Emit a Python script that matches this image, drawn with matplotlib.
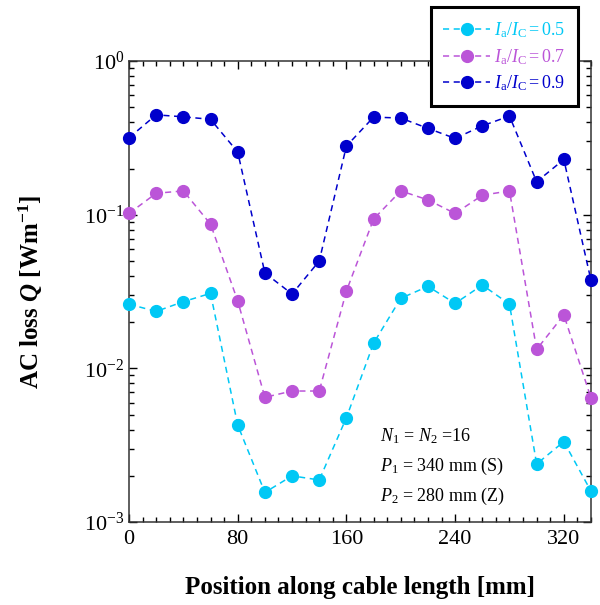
import matplotlib.pyplot as plt

plt.rcParams['font.family'] = ['Liberation Serif', 'DejaVu Serif']
plt.rcParams['mathtext.fontset'] = 'custom'
plt.rcParams['mathtext.rm'] = 'Liberation Serif'
plt.rcParams['mathtext.it'] = 'Liberation Serif:italic'
plt.rcParams['mathtext.bf'] = 'Liberation Serif:bold'
plt.rcParams['mathtext.bfit'] = 'Liberation Serif:italic:bold'
plt.rcParams['axes.unicode_minus'] = False

# chart data
position = [0, 20, 40, 60, 80, 100, 120, 140, 160, 180, 200, 220, 240, 260, 280, 300, 320, 340]
loss_05 = [0.0262, 0.0235, 0.0272, 0.0308, 0.00428, 0.00156, 0.00200, 0.00188, 0.00478,
           0.0146, 0.0286, 0.0342, 0.0265, 0.0349, 0.0262, 0.00239, 0.00334, 0.00159]
loss_07 = [0.102, 0.138, 0.143, 0.0869, 0.0275, 0.00649, 0.00713, 0.00713, 0.0319,
           0.0938, 0.143, 0.125, 0.102, 0.134, 0.143, 0.0133, 0.0223, 0.00642]
loss_09 = [0.317, 0.447, 0.434, 0.418, 0.256, 0.0418, 0.0305, 0.050, 0.280,
           0.432, 0.426, 0.365, 0.314, 0.379, 0.439, 0.164, 0.229, 0.0374]
labels = [r'$I_\mathrm{a}/I_\mathrm{C} = 0.5$',
          r'$I_\mathrm{a}/I_\mathrm{C} = 0.7$',
          r'$I_\mathrm{a}/I_\mathrm{C} = 0.9$']
colors = ['#00C8F5', '#BB55D8', '#0000CC']

fig = plt.figure(figsize=(6.0, 6.05), dpi=100)
ax = fig.add_axes([0.215, 0.137, 0.77, 0.762])

for y, lab, c in zip([loss_05, loss_07, loss_09], labels, colors):
    ax.plot(position, y, linestyle='--', dashes=(4, 3), color=c, linewidth=1.1,
            marker='o', markersize=8.5, label=lab, clip_on=False, zorder=3)

ax.set_yscale('log')
ax.set_xlim(0, 340)
ax.set_ylim(1e-3, 1)
ax.set_xticks([0, 80, 160, 240, 320])
ax.set_xticks(range(0, 341, 10), minor=True)

ax.tick_params(which='both', direction='in', top=True, right=True, labelsize=16)
ax.tick_params(which='major', length=6, width=1)
ax.tick_params(which='minor', length=3.5, width=1)
ax.tick_params(axis='x', pad=6)
for s in ax.spines.values():
    s.set_linewidth(1.1)
    s.set_color('#333333')

ax.set_xlabel('Position along cable length [mm]', fontsize=18, fontweight='bold', labelpad=19)
ax.set_ylabel(r'AC loss $\mathbfit{Q}$ [Wm$^{\mathbf{-1}}$]', fontsize=18, fontweight='bold',
              labelpad=28)

ax.text(0.543, 0.175, r'$N_1$ = $N_2$ =16', transform=ax.transAxes, fontsize=13)
ax.text(0.543, 0.11, r'$P_1$ = 340 mm (S)', transform=ax.transAxes, fontsize=13)
ax.text(0.543, 0.045, r'$P_2$ = 280 mm (Z)', transform=ax.transAxes, fontsize=13)

leg = fig.legend(loc='upper right', bbox_to_anchor=(0.963, 0.988), borderaxespad=0,
                 fontsize=13, labelcolor='linecolor', fancybox=False, edgecolor='black',
                 framealpha=1, handlelength=2.6, handletextpad=0.2,
                 labelspacing=0.4, borderpad=0.7)
leg.get_frame().set_linewidth(2.2)

plt.savefig('out.png')
